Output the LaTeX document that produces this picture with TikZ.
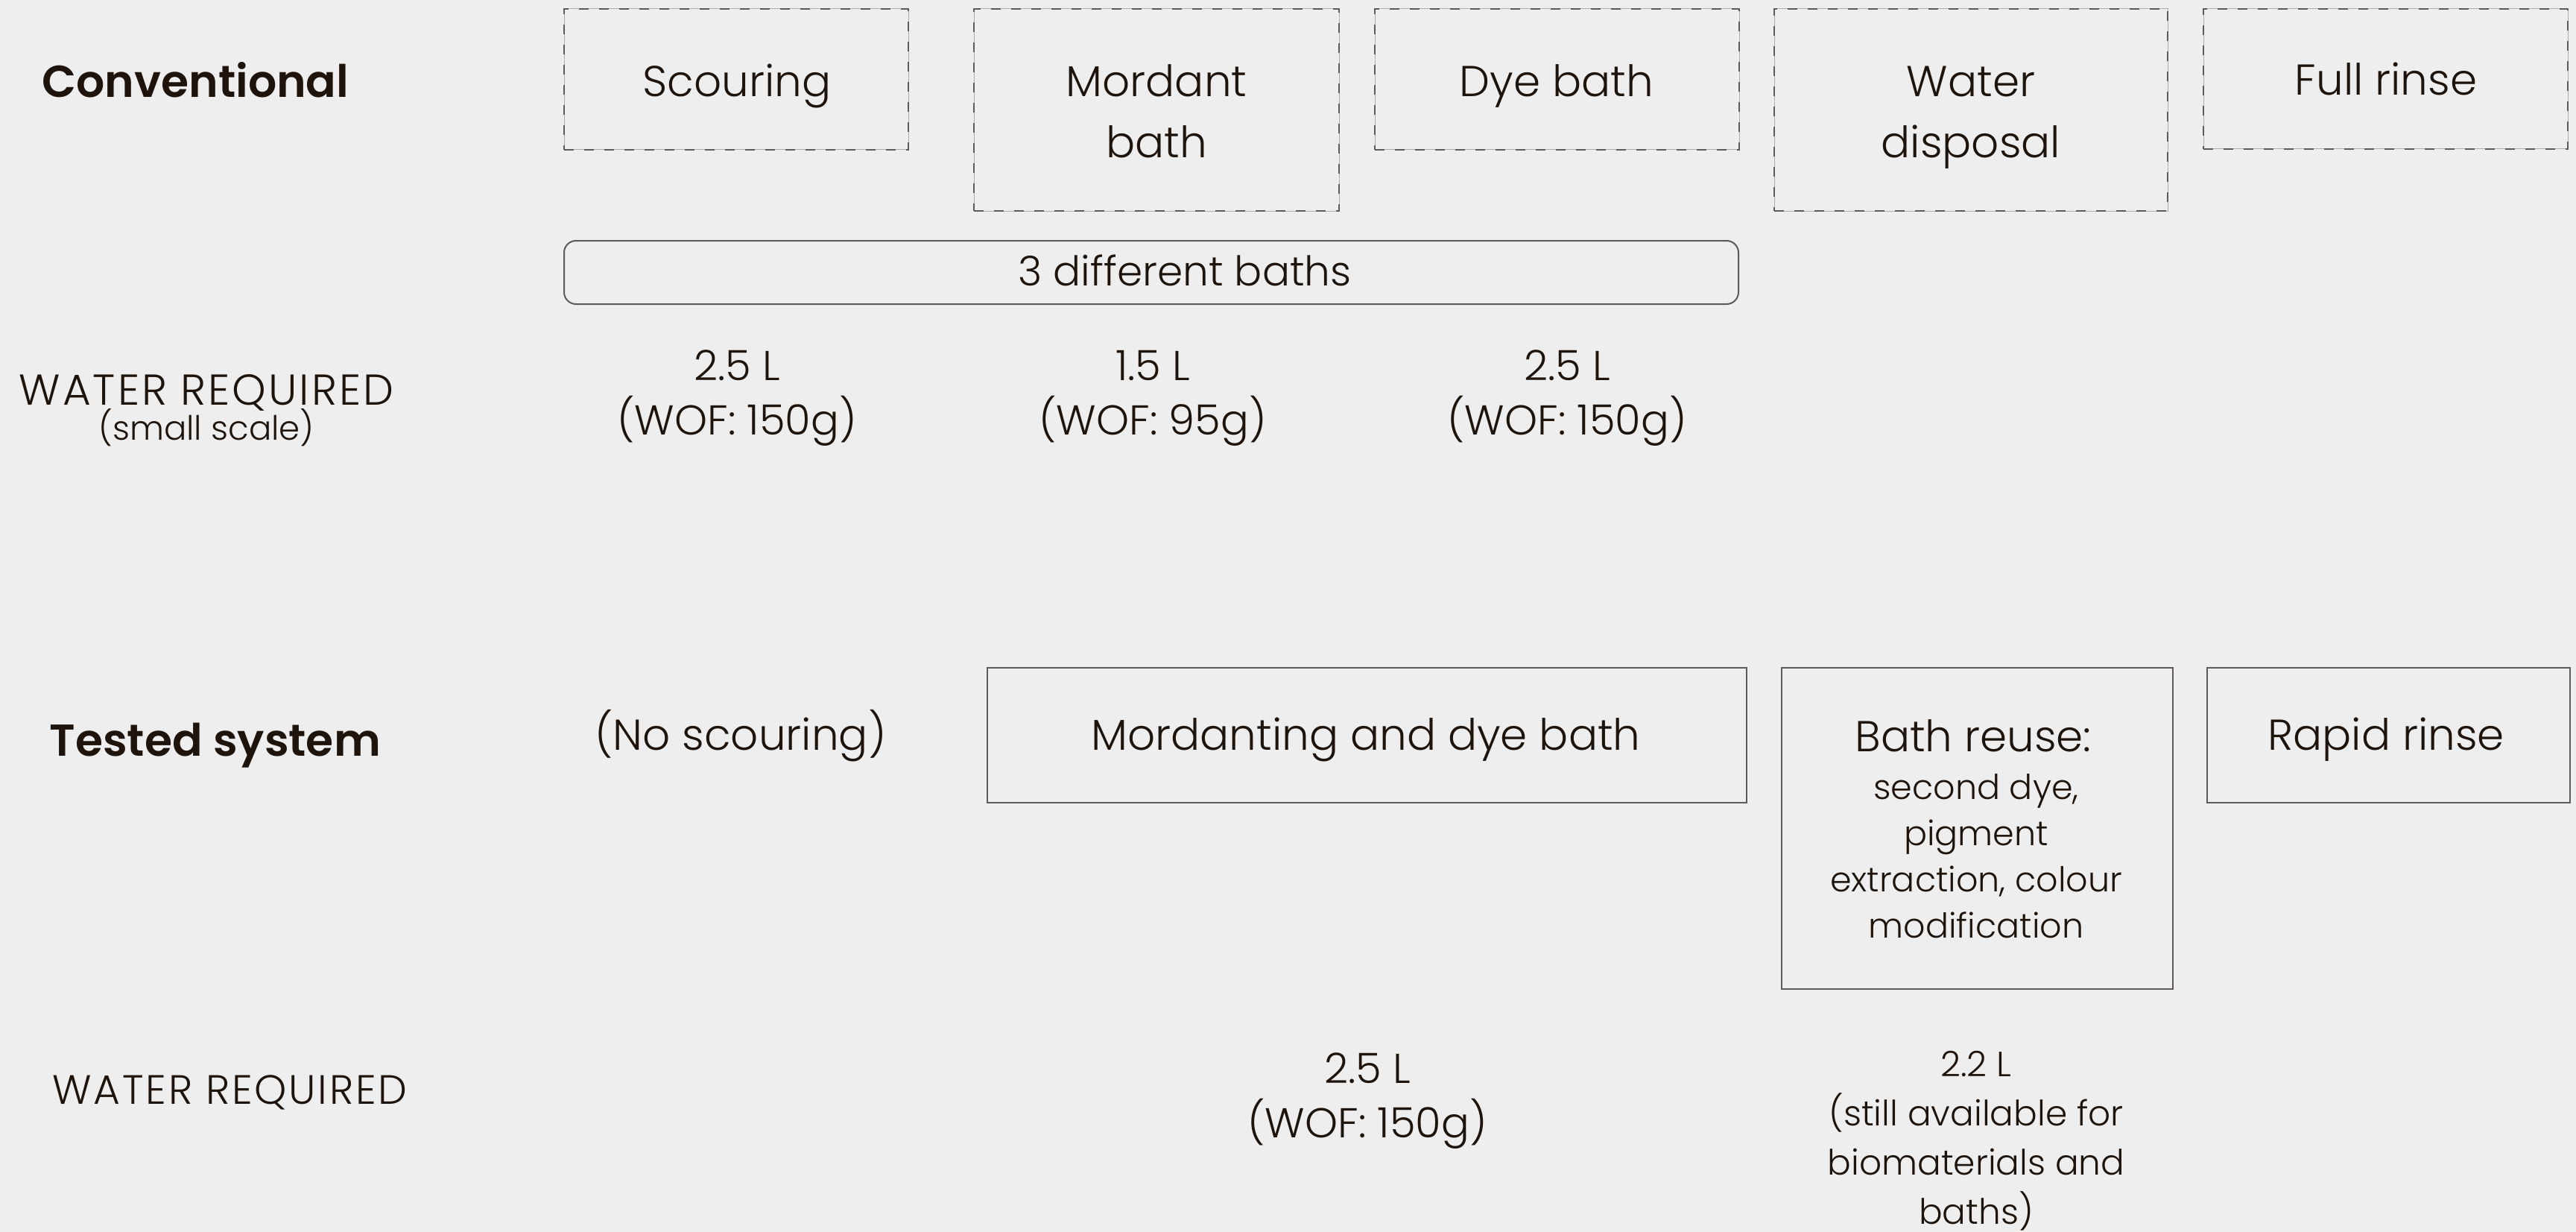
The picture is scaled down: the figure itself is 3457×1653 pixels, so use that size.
\documentclass[tikz,border=0pt]{standalone}
\usepackage{fontspec}
\IfFontExistsTF{Poppins Light}{\setmainfont{Poppins Light}}{\setmainfont{Poppins}}
\IfFontExistsTF{Poppins SemiBold}{\newfontfamily\hdfont{Poppins SemiBold}}{\newfontfamily\hdfont{Poppins}[UprightFont=*-Bold]}
\definecolor{bg}{RGB}{238,238,238}
\definecolor{ink}{RGB}{30,20,12}
\definecolor{edge}{RGB}{95,90,88}
\definecolor{thin}{RGB}{175,172,170}
\newcommand{\fs}[2]{\fontsize{#1}{#2}\selectfont}
\tikzset{
  dbox/.style={rectangle, inner sep=0pt, draw=edge, line width=1.4pt,
    dash pattern=on 6.5pt off 7pt,
    preaction={draw=thin, line width=0.5pt, solid}},
  sbox/.style={rectangle, inner sep=0pt, draw=edge, line width=1pt},
  rbox/.style={rectangle, rounded corners=8pt, inner sep=0pt, draw=edge, line width=1pt},
  lbl/.style={inner sep=0pt, anchor=base, text=ink, align=center},
  main/.style={lbl, font=\fs{29}{41}},
  head/.style={inner sep=0pt, anchor=base west, text=ink, font=\hdfont\fs{30}{36}},
  val/.style={lbl, font=\fs{28}{36.5}},
  capsa/.style={inner sep=0pt, text=ink, anchor=base, font=\addfontfeatures{LetterSpace=5}\fs{29}{34}},
  capsb/.style={inner sep=0pt, text=ink, anchor=base west, font=\addfontfeatures{LetterSpace=5}\fs{27.5}{32}},
}
\begin{document}
\begin{tikzpicture}[x=0.5pt,y=-0.5pt]
\fill[bg] (0,0) rectangle (3457,1653);
\useasboundingbox (0,0) rectangle (3457,1653);
% Conventional row
\node[head] (conv) at (56,131) {Conventional};
\node[dbox, minimum width=231pt, minimum height=94.5pt] (bscour) at (988,106.5) {};
\node[main] (tscour) at (989,130) {Scouring};
\node[dbox, minimum width=245pt, minimum height=135.5pt] (bmord) at (1552,147.5) {};
\node[main] (tmord) at (1552,212) {Mordant\\bath};
\node[dbox, minimum width=244.5pt, minimum height=94.5pt] (bdye) at (2089.5,106.5) {};
\node[main] (tdye) at (2089,130) {Dye bath};
\node[dbox, minimum width=264pt, minimum height=135.5pt] (bwater) at (2645,147.5) {};
\node[main] (twater) at (2645,212) {Water\\disposal};
\node[dbox, minimum width=244.5pt, minimum height=94pt] (brinse) at (3201.5,106) {};
\node[main] (trinse) at (3202,128) {Full rinse};
\node[rbox, minimum width=788pt, minimum height=42.5pt] (bthree) at (1545,365.5) {};
\node[lbl, font=\fs{27.5}{33}] (tthree) at (1590,383) {3 different baths};
% water conventional
\node[capsa] (wr1) at (277,543) {WATER REQUIRED};
\node[lbl, font=\fs{22.5}{26}] (wr1s) at (277,590) {(small scale)};
\node[val] (v1) at (989,583) {2.5 L\\(WOF: 150g)};
\node[val] (v2) at (1547,583) {1.5 L\\(WOF: 95g)};
\node[val] (v3) at (2103,583) {2.5 L\\(WOF: 150g)};
% Tested system row
\node[head] (tested) at (66,1014) {Tested system};
\node[main] (tnoscour) at (994,1006) {(No scouring)};
\node[sbox, minimum width=509.5pt, minimum height=90.5pt] (bmdb) at (1834.5,986.5) {};
\node[main] (tmdb) at (1833,1006) {Mordanting and dye bath};
\node[sbox, minimum width=262.5pt, minimum height=215.5pt] (breuse) at (2653.5,1111.5) {};
\node[main] (treuse) at (2648,1008) {Bath reuse:};
\node[lbl, font=\fs{23}{31}] (treusesub) at (2652,1258) {second dye,\\pigment\\extraction, colour\\modification};
\node[sbox, minimum width=243.5pt, minimum height=90.5pt] (brapid) at (3205.5,986.5) {};
\node[main] (trapid) at (3202,1006) {Rapid rinse};
% water tested
\node[capsb] (wr2) at (70,1481) {WATER REQUIRED};
\node[val] (v4) at (1835,1526) {2.5 L\\(WOF: 150g)};
\node[lbl, font=\fs{23.5}{33}] (v5) at (2652,1642) {2.2 L\\(still available for\\biomaterials and\\baths)};
\end{tikzpicture}
\end{document}
